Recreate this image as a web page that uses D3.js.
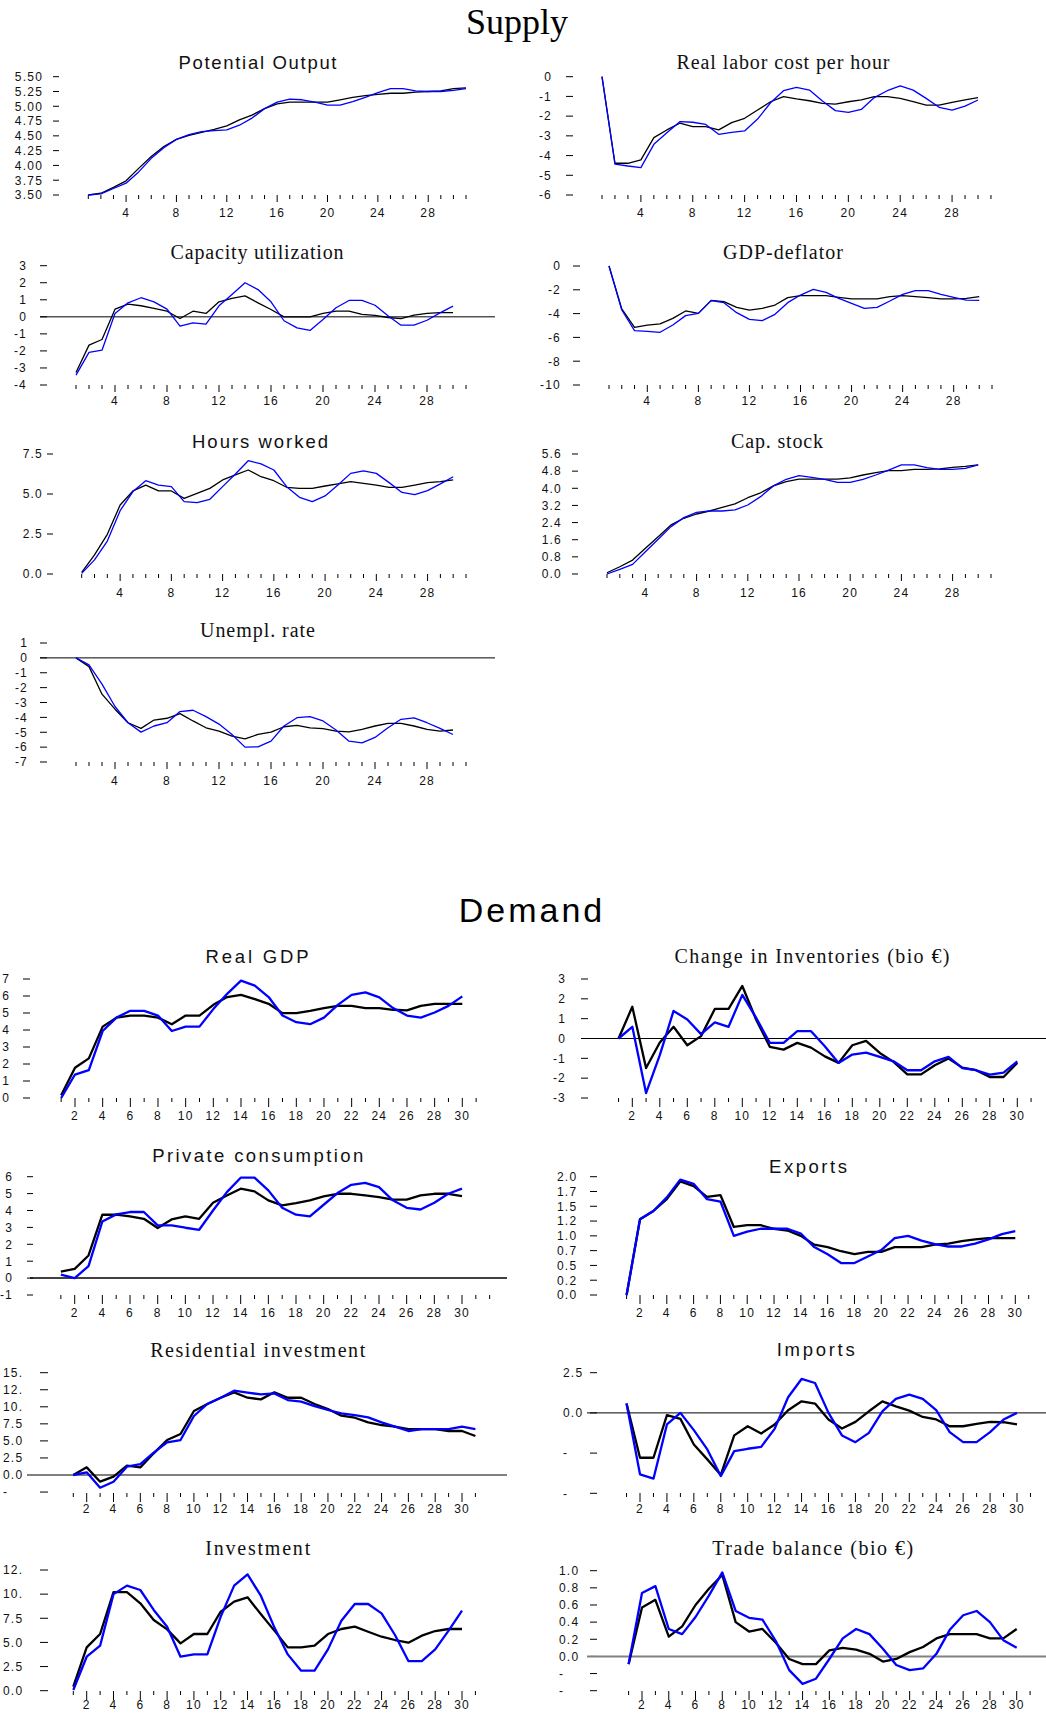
<!DOCTYPE html>
<html><head><meta charset="utf-8">
<script src="https://cdn.jsdelivr.net/npm/d3@7"></script>
<style>body{margin:0;background:#fff} svg{display:block}</style>
</head><body>
<svg id="c" width="1046" height="1715"></svg>
<script>
// ---------- DATA ----------
const potentialBlack = [3.50,3.53,3.63,3.74,3.95,4.15,4.32,4.44,4.51,4.56,4.61,4.67,4.77,4.85,4.96,5.04,5.07,5.07,5.07,5.07,5.11,5.15,5.18,5.20,5.22,5.22,5.24,5.25,5.26,5.30,5.31];
const potentialBlue  = [3.50,3.52,3.61,3.70,3.89,4.12,4.30,4.44,4.52,4.57,4.59,4.60,4.68,4.80,4.96,5.07,5.12,5.11,5.07,5.02,5.02,5.08,5.15,5.23,5.30,5.30,5.26,5.25,5.25,5.27,5.30];
const laborBlack = [0,-4.39,-4.39,-4.22,-3.09,-2.70,-2.36,-2.53,-2.53,-2.70,-2.33,-2.11,-1.69,-1.27,-1.01,-1.13,-1.22,-1.35,-1.39,-1.27,-1.18,-1.01,-1.01,-1.10,-1.27,-1.44,-1.44,-1.30,-1.18,-1.06];
const laborBlue  = [0,-4.43,-4.53,-4.61,-3.43,-2.84,-2.28,-2.31,-2.42,-2.92,-2.82,-2.75,-2.15,-1.32,-0.71,-0.54,-0.68,-1.23,-1.72,-1.81,-1.66,-1.06,-0.71,-0.47,-0.68,-1.10,-1.55,-1.69,-1.49,-1.18];
const capUtilBlack = [-3.27,-1.66,-1.33,0.45,0.74,0.65,0.49,0.33,-0.10,0.33,0.20,0.88,1.08,1.23,0.82,0.43,0,0,0,0.20,0.33,0.33,0.14,0.08,-0.04,-0.10,0.10,0.20,0.25,0.25];
const capUtilBlue  = [-3.42,-2.09,-1.96,0.20,0.82,1.12,0.88,0.45,-0.55,-0.35,-0.43,0.65,1.31,2.00,1.60,0.88,-0.23,-0.65,-0.80,-0.16,0.53,0.96,0.96,0.68,0.06,-0.49,-0.49,-0.20,0.23,0.63];
const deflatorBlack = [0,-3.61,-5.15,-4.96,-4.87,-4.40,-3.78,-3.98,-2.89,-3.00,-3.47,-3.70,-3.56,-3.28,-2.66,-2.49,-2.49,-2.49,-2.63,-2.77,-2.77,-2.77,-2.58,-2.49,-2.58,-2.66,-2.77,-2.77,-2.72,-2.58];
const deflatorBlue  = [0,-3.70,-5.43,-5.49,-5.57,-4.96,-4.17,-3.98,-2.91,-3.08,-3.92,-4.48,-4.59,-4.06,-3.08,-2.44,-1.96,-2.21,-2.72,-3.14,-3.56,-3.47,-2.94,-2.38,-2.07,-2.07,-2.38,-2.63,-2.86,-2.89];
const hoursBlack = [0.10,1.19,2.48,4.31,5.19,5.56,5.19,5.19,4.73,5.04,5.35,5.88,6.19,6.50,6.08,5.83,5.42,5.35,5.35,5.50,5.63,5.77,5.67,5.56,5.42,5.42,5.56,5.71,5.77,5.88];
const hoursBlue  = [0.04,0.88,2.06,3.96,5.15,5.83,5.56,5.46,4.52,4.46,4.67,5.46,6.25,7.08,6.88,6.50,5.46,4.79,4.52,4.88,5.56,6.29,6.44,6.29,5.71,5.10,4.96,5.21,5.63,6.08];
const capStockBlack = [0.06,0.34,0.65,1.20,1.74,2.29,2.60,2.80,2.94,3.11,3.27,3.56,3.79,4.11,4.31,4.43,4.43,4.43,4.43,4.49,4.62,4.73,4.82,4.82,4.88,4.88,4.91,4.98,5.02,5.09];
const capStockBlue  = [0,0.22,0.45,1.04,1.62,2.21,2.63,2.88,2.94,2.94,2.99,3.22,3.61,4.11,4.42,4.59,4.51,4.42,4.28,4.28,4.42,4.62,4.85,5.09,5.09,4.96,4.88,4.88,4.93,5.09];
const unemplBlack = [0,-0.59,-2.44,-3.45,-4.36,-4.74,-4.18,-4.06,-3.75,-4.24,-4.70,-4.92,-5.26,-5.44,-5.15,-4.99,-4.63,-4.54,-4.70,-4.76,-4.92,-4.97,-4.81,-4.58,-4.40,-4.40,-4.58,-4.81,-4.92,-4.85];
const unemplBlue  = [0,-0.47,-1.76,-3.27,-4.36,-4.99,-4.58,-4.36,-3.61,-3.52,-3.95,-4.45,-5.15,-6.00,-5.98,-5.60,-4.58,-4.02,-3.95,-4.24,-4.85,-5.60,-5.71,-5.35,-4.70,-4.13,-4.04,-4.36,-4.74,-5.15];

const gdpBlack = [0.16,1.78,2.33,4.20,4.73,4.85,4.85,4.73,4.34,4.85,4.85,5.48,5.94,6.07,5.82,5.54,4.99,4.99,5.13,5.29,5.42,5.42,5.29,5.29,5.19,5.15,5.42,5.54,5.54,5.54];
const gdpBlue  = [0,1.38,1.64,3.94,4.73,5.13,5.13,4.85,3.94,4.20,4.20,5.23,6.13,6.90,6.61,5.94,4.85,4.46,4.34,4.73,5.48,6.07,6.21,5.92,5.29,4.85,4.73,5.03,5.42,5.98];
const inventBlack = [0,1.60,-1.49,-0.20,0.59,-0.34,0.12,1.49,1.49,2.65,0.96,-0.42,-0.56,-0.22,-0.46,-0.90,-1.23,-0.34,-0.12,-0.73,-1.18,-1.81,-1.81,-1.35,-1.01,-1.47,-1.60,-1.94,-1.94,-1.23];
const inventBlue  = [0,0.59,-2.75,-0.84,1.39,0.96,0.22,0.81,0.59,2.20,1.05,-0.22,-0.22,0.37,0.37,-0.39,-1.23,-0.81,-0.71,-0.93,-1.15,-1.60,-1.60,-1.15,-0.93,-1.49,-1.60,-1.82,-1.72,-1.15];
const consBlack = [0.39,0.55,1.34,3.75,3.75,3.65,3.51,2.96,3.47,3.65,3.51,4.46,4.89,5.29,5.13,4.60,4.30,4.44,4.60,4.83,4.99,4.99,4.89,4.79,4.64,4.64,4.89,4.99,4.99,4.85];
const consBlue  = [0.20,0,0.71,3.35,3.77,3.91,3.91,3.12,3.12,2.98,2.86,4.00,5.09,5.94,5.94,5.19,4.16,3.75,3.65,4.34,5.03,5.52,5.64,5.38,4.60,4.16,4.06,4.46,4.99,5.29];
const exportsBlack = [0,1.28,1.42,1.62,1.92,1.84,1.66,1.69,1.15,1.18,1.18,1.12,1.09,1.00,0.85,0.81,0.74,0.69,0.73,0.73,0.81,0.81,0.81,0.85,0.87,0.91,0.94,0.96,0.96,0.96];
const exportsBlue  = [0,1.28,1.42,1.65,1.95,1.88,1.62,1.58,1.00,1.07,1.12,1.12,1.12,1.04,0.81,0.69,0.54,0.54,0.65,0.76,0.96,1.00,0.92,0.86,0.82,0.82,0.87,0.94,1.03,1.08];
const resBlack = [0,1.12,-0.98,-0.24,1.37,1.12,3.18,5.13,6.01,9.38,10.41,11.33,12.12,11.33,11.09,12.12,11.33,11.33,10.41,9.67,8.70,8.40,7.72,7.33,7.08,6.74,6.74,6.74,6.45,6.45,5.72];
const resBlue  = [0,0.39,-1.86,-0.98,1.22,1.61,3.27,4.79,5.13,8.65,10.41,11.33,12.36,12.07,11.82,11.97,10.99,10.75,10.11,9.53,9.04,8.79,8.45,7.72,7.08,6.45,6.74,6.74,6.74,7.08,6.74];
const importsBlack = [0.58,-2.79,-2.79,-0.14,-0.37,-1.96,-2.89,-3.86,-1.40,-0.83,-1.28,-0.72,0.17,0.72,0.58,-0.41,-0.97,-0.56,0.10,0.72,0.41,0.14,-0.25,-0.41,-0.83,-0.83,-0.68,-0.56,-0.58,-0.72];
const importsBlue  = [0.58,-3.82,-4.09,-0.72,0,-1.07,-2.27,-3.93,-2.38,-2.23,-2.11,-0.99,0.97,2.11,1.86,0,-1.40,-1.82,-1.24,0.10,0.87,1.14,0.87,0.17,-1.20,-1.82,-1.82,-1.20,-0.41,0];
const investBlack = [0.41,4.49,5.87,10.2,10.2,9.05,7.32,6.35,4.90,5.87,5.87,8.18,9.22,9.67,7.91,6.22,4.49,4.49,4.66,5.87,6.39,6.63,6.11,5.59,5.25,4.97,5.70,6.18,6.39,6.39];
const investBlue  = [0.07,3.52,4.66,10.0,10.88,10.43,8.36,6.63,3.52,3.76,3.76,7.67,10.88,12.05,9.81,6.56,3.76,2.07,2.07,4.28,7.25,8.98,8.98,8.01,5.77,3.07,3.07,4.28,6.22,8.29];
const tradeBlack = [-0.09,0.57,0.66,0.23,0.35,0.60,0.79,0.95,0.40,0.29,0.32,0.16,-0.03,-0.09,-0.09,0.07,0.10,0.08,0.03,-0.06,-0.03,0.05,0.11,0.21,0.26,0.26,0.26,0.21,0.21,0.32];
const tradeBlue  = [-0.09,0.74,0.82,0.32,0.26,0.46,0.71,0.98,0.53,0.45,0.43,0.18,-0.16,-0.32,-0.26,-0.03,0.21,0.32,0.26,0.09,-0.10,-0.16,-0.14,0.03,0.31,0.48,0.53,0.40,0.19,0.10];

// tick values / labels
const potTicks = [3.5,3.75,4,4.25,4.5,4.75,5,5.25,5.5];
const potLabels = ["3.50","3.75","4.00","4.25","4.50","4.75","5.00","5.25","5.50"];
const laborTicks = [-6,-5,-4,-3,-2,-1,0];
const capUtilTicks = [-4,-3,-2,-1,0,1,2,3];
const deflTicks = [-10,-8,-6,-4,-2,0];
const hoursTicks = [0,2.5,5,7.5];
const hoursLabels = ["0.0","2.5","5.0","7.5"];
const stockTicks = [0,0.8,1.6,2.4,3.2,4.0,4.8,5.6];
const stockLabels = ["0.0","0.8","1.6","2.4","3.2","4.0","4.8","5.6"];
const unemplTicks = [-7,-6,-5,-4,-3,-2,-1,0,1];
const gdpTicks = [0,1,2,3,4,5,6,7];
const inventTicks = [-3,-2,-1,0,1,2,3];
const consTicks = [-1,0,1,2,3,4,5,6];
const exportsTicks = [0,0.25,0.5,0.75,1,1.25,1.5,1.75,2];
const exportsLabels = ["0.0","0.2","0.5","0.7","1.0","1.2","1.5","1.7","2.0"];
const resTicks = [-2.5,0,2.5,5,7.5,10,12.5,15];
const resLabels = ["-","0.0","2.5","5.0","7.5","10.","12.","15."];
const importsTicks = [-5,-2.5,0,2.5];
const importsLabels = ["-","-","0.0","2.5"];
const investTicks = [0,2.5,5,7.5,10,12.5];
const investLabels = ["0.0","2.5","5.0","7.5","10.","12."];
const tradeTicks = [-0.4,-0.2,0,0.2,0.4,0.6,0.8,1.0];
const tradeLabels = ["-","-","0.0","0.2","0.4","0.6","0.8","1.0"];
const supplyXLabels = [4,8,12,16,20,24,28];
const demandXLabels = [2,4,6,8,10,12,14,16,18,20,22,24,26,28,30];

// ---------- LAYOUT ----------
const SANS = "'Liberation Sans', Arial, sans-serif";
const SERIF = "'Liberation Serif', 'Times New Roman', serif";
const BLUE = "#0000ff";

const panels = [
 {title:"Potential Output", font:SANS, tx:257.5, ty:69, tw:158, black:potentialBlack, blue:potentialBlue,
  xd:[1,31], xr:[88.3,466], yd:[3.5,5.5], yr:[195,76.7], yt:potTicks, yl:potLabels, lx:43, la:"end", dx:[53,59],
  nt:31, major:supplyXLabels, tickY:195, labY:217, minL:4, majL:7, lw:1.3},
 {title:"Real labor cost per hour", font:SERIF, tx:783, ty:69, tw:213, black:laborBlack, blue:laborBlue,
  xd:[1,30], xr:[602,978], yd:[-6,0], yr:[195,76.7], yt:laborTicks, lx:552, la:"end", dx:[566,573],
  nt:31, major:supplyXLabels, tickY:195, labY:217, minL:4, majL:7, lw:1.3},
 {title:"Capacity utilization", font:SERIF, tx:257, ty:259, tw:173, black:capUtilBlack, blue:capUtilBlue,
  xd:[1,31], xr:[76,466], yd:[-4,3], yr:[385,265.7], yt:capUtilTicks, lx:27, la:"end", dx:[40,47],
  zero:{x0:40,x1:495,c:"#000",w:1}, nt:31, major:supplyXLabels, tickY:385, labY:405, minL:4, majL:7, lw:1.3},
 {title:"GDP-deflator", font:SERIF, tx:783, ty:259, tw:120, black:deflatorBlack, blue:deflatorBlue,
  xd:[1,31], xr:[609,992], yd:[-10,0], yr:[385,266], yt:deflTicks, lx:561, la:"end", dx:[573,580],
  nt:31, major:supplyXLabels, tickY:385, labY:405, minL:4, majL:7, lw:1.3},
 {title:"Hours worked", font:SANS, tx:260, ty:448, tw:136, black:hoursBlack, blue:hoursBlue,
  xd:[1,31], xr:[81.7,466], yd:[0,7.5], yr:[574,454], yt:hoursTicks, yl:hoursLabels, lx:43, la:"end", dx:[47,53],
  nt:31, major:supplyXLabels, tickY:574, labY:597, minL:4, majL:7, lw:1.3},
 {title:"Cap. stock", font:SERIF, tx:777, ty:448, tw:92, black:capStockBlack, blue:capStockBlue,
  xd:[1,31], xr:[607,991], yd:[0,5.6], yr:[574,454], yt:stockTicks, yl:stockLabels, lx:562, la:"end", dx:[572,578],
  nt:31, major:supplyXLabels, tickY:574, labY:597, minL:4, majL:7, lw:1.3},
 {title:"Unempl. rate", font:SERIF, tx:257.5, ty:637, tw:115, black:unemplBlack, blue:unemplBlue,
  xd:[1,31], xr:[76,466], yd:[-7,1], yr:[762,643], yt:unemplTicks, lx:28, la:"end", dx:[40,47],
  zero:{x0:40,x1:495,c:"#000",w:1}, nt:31, major:supplyXLabels, tickY:762, labY:785, minL:4, majL:7, lw:1.3},

 {title:"Real GDP", font:SANS, tx:257, ty:963, tw:103, black:gdpBlack, blue:gdpBlue,
  xd:[2,30], xr:[75,462.3], yd:[0,7], yr:[1098,979], yt:gdpTicks, lx:10, la:"end", dx:[23,30],
  nt:31, major:demandXLabels, tickY:1098, labY:1120, minL:4, majL:9, lw:2.3},
 {title:"Change in Inventories (bio €)", font:SERIF, tx:812, ty:963, tw:275, black:inventBlack, blue:inventBlue,
  xd:[2,30], xr:[632.3,1017.3], yd:[-3,3], yr:[1098,979], yt:inventTicks, lx:566, la:"end", dx:[581,588],
  zero:{x0:583,x1:1046,c:"#000",w:1}, nt:31, major:demandXLabels, tickY:1098, labY:1120, minL:4, majL:9, lw:2.3},
 {title:"Private consumption", font:SANS, tx:257.7, ty:1162, tw:211, black:consBlack, blue:consBlue,
  xd:[2,30], xr:[74.7,462], yd:[-1,6], yr:[1295,1176.7], yt:consTicks, lx:13, la:"end", dx:[27,33],
  zero:{x0:30,x1:507,c:"#000",w:1.5}, nt:32, major:demandXLabels, tickY:1295, labY:1317, minL:4, majL:9, lw:2.3},
 {title:"Exports", font:SANS, tx:808, ty:1173, tw:78, black:exportsBlack, blue:exportsBlue,
  xd:[2,30], xr:[640,1015.3], yd:[0,2], yr:[1295,1176.7], yt:exportsTicks, yl:exportsLabels, lx:557, la:"start", dx:[590,597],
  nt:31, major:demandXLabels, tickY:1295, labY:1317, minL:4, majL:9, lw:2.3},
 {title:"Residential investment", font:SERIF, tx:257.7, ty:1357, tw:215, black:resBlack, blue:resBlue,
  xd:[2,30], xr:[86.7,462], yd:[0,15], yr:[1475,1372.7], yt:resTicks, yl:resLabels, lx:3, la:"start", dx:[40,48],
  zero:{x0:27,x1:507,c:"#808080",w:2}, nt:31, major:demandXLabels, tickY:1493, labY:1513, minL:4, majL:9, lw:2.3},
 {title:"Imports", font:SANS, tx:815.7, ty:1356, tw:78, black:importsBlack, blue:importsBlue,
  xd:[2,30], xr:[640,1017], yd:[-5,2.5], yr:[1493.3,1372.7], yt:importsTicks, yl:importsLabels, lx:563, la:"start", dx:[590,597],
  zero:{x0:587,x1:1046,c:"#000",w:1}, nt:31, major:demandXLabels, tickY:1493, labY:1513, minL:4, majL:9, lw:2.3},
 {title:"Investment", font:SERIF, tx:257.7, ty:1555, tw:105, black:investBlack, blue:investBlue,
  xd:[2,30], xr:[86.7,462], yd:[0,12.5], yr:[1690.7,1570], yt:investTicks, yl:investLabels, lx:3, la:"start", dx:[40,48],
  nt:31, major:demandXLabels, tickY:1691, labY:1709, minL:4, majL:9, lw:2.3},
 {title:"Trade balance (bio €)", font:SERIF, tx:812.7, ty:1555, tw:201, black:tradeBlack, blue:tradeBlue,
  xd:[2,30], xr:[642,1016.7], yd:[-0.4,1], yr:[1690.7,1570.7], yt:tradeTicks, yl:tradeLabels, lx:559, la:"start", dx:[590,597],
  zero:{x0:587,x1:1046,c:"#808080",w:2}, nt:31, major:demandXLabels, tickY:1691, labY:1709, minL:4, majL:9, lw:2.3}
];

const svg = d3.select("#c");

// Section titles
svg.append("text").attr("x",517).attr("y",34).attr("text-anchor","middle")
  .attr("font-family",SERIF).attr("font-size",36).text("Supply");
svg.append("text").attr("x",532).attr("y",922).attr("text-anchor","middle")
  .attr("font-family",SANS).attr("font-size",34).attr("letter-spacing",3).text("Demand");

panels.forEach(p => {
  const g = svg.append("g");
  const x = d3.scaleLinear().domain(p.xd).range(p.xr);
  const y = d3.scaleLinear().domain(p.yd).range(p.yr);

  // title
  g.append("text").attr("x",p.tx).attr("y",p.ty).attr("text-anchor","middle")
    .attr("font-family",p.font).attr("font-size",p.font===SANS?18.5:20)
    .attr("textLength",p.tw).attr("lengthAdjust","spacing").attr("fill","#111").text(p.title);

  // y ticks: dashes + labels
  const yl = p.yl || p.yt.map(v => String(v));
  p.yt.forEach((v,i) => {
    g.append("line").attr("x1",p.dx[0]).attr("x2",p.dx[1]).attr("y1",y(v)).attr("y2",y(v))
      .attr("stroke","#000").attr("stroke-width",1);
    g.append("text").attr("x",p.lx).attr("y",y(v)).attr("dy","0.36em").attr("text-anchor",p.la)
      .attr("font-family",SANS).attr("font-size",12).attr("letter-spacing",1.2).attr("fill","#111").text(yl[i]);
  });

  // zero line
  if (p.zero) {
    g.append("line").attr("x1",p.zero.x0).attr("x2",p.zero.x1).attr("y1",y(0)).attr("y2",y(0))
      .attr("stroke",p.zero.c).attr("stroke-width",p.zero.w);
  }

  // x ticks
  d3.range(1,p.nt+1).forEach(t => {
    const isMaj = p.major.includes(t);
    g.append("line").attr("x1",x(t)).attr("x2",x(t)).attr("y1",p.tickY).attr("y2",p.tickY+(isMaj?p.majL:p.minL))
      .attr("stroke","#000").attr("stroke-width",1);
    if (isMaj) {
      g.append("text").attr("x",x(t)).attr("y",p.labY).attr("text-anchor","middle")
        .attr("font-family",SANS).attr("font-size",12).attr("letter-spacing",1.2).attr("fill","#111").text(t);
    }
  });

  // lines
  const line = d3.line().x((d,i)=>x(i+1)).y(d=>y(d));
  g.append("path").attr("d",line(p.black)).attr("fill","none").attr("stroke","#000").attr("stroke-width",p.lw).attr("stroke-linejoin","round");
  g.append("path").attr("d",line(p.blue)).attr("fill","none").attr("stroke",BLUE).attr("stroke-width",p.lw).attr("stroke-linejoin","round");
});
</script>
</body></html>
